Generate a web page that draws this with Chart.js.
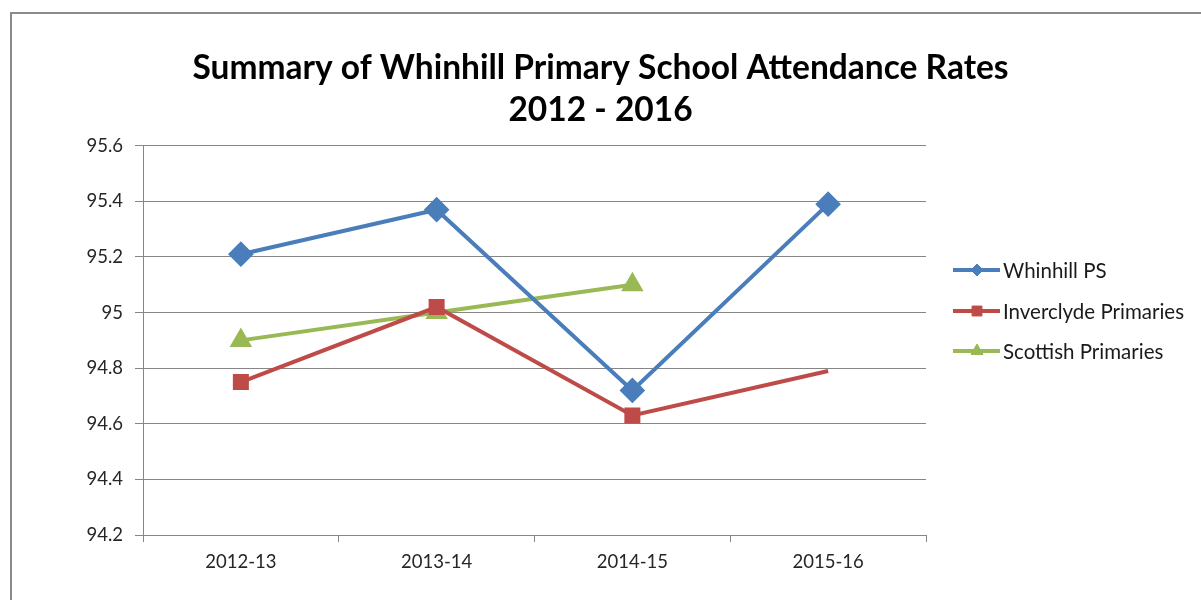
<!DOCTYPE html>
<html>
<head>
<meta charset="utf-8">
<script src="https://cdn.jsdelivr.net/npm/chart.js@4"></script>
<style>
  html, body { margin: 0; padding: 0; background: #fff; overflow: hidden; }
  #wrap { position: relative; width: 1201px; height: 600px; }
  #frame { position: absolute; left: 10px; top: 12px; width: 1400px; height: 800px; border: 2px solid #8a8a8a; box-sizing: border-box; }
  canvas { position: absolute; left: 0; top: 0; }
</style>
</head>
<body>
<div id="wrap">
  <div id="frame"></div>
  <canvas id="c" width="1201" height="600"></canvas>
</div>
<script>
const categories = ['2012-13', '2013-14', '2014-15', '2015-16'];
const whinhill = [95.21, 95.37, 94.72, 95.39];
const inverclyde = [94.75, 95.02, 94.63, 94.79];
const scottish = [94.90, 95.00, 95.10, null];
const yTickLabels = ['94.2', '94.4', '94.6', '94.8', '95', '95.2', '95.4', '95.6'];
const titleLines = ['Summary of Whinhill Primary School Attendance Rates', '2012 - 2016'];
const seriesNames = ['Whinhill PS', 'Inverclyde Primaries', 'Scottish Primaries'];

const FONT = 'Lato, "Open Sans", sans-serif';
const BLUE = '#4A7EBB', RED = '#BE4B48', GREEN = '#98B954';

const legendPlugin = {
  id: 'sideLegend',
  afterDraw(chart) {
    const ctx = chart.ctx;
    const x0 = chart.chartArea.right + 27;
    const ys = [270, 311, 351];
    chart.data.datasets.forEach((ds, i) => {
      const y = ys[i];
      ctx.save();
      ctx.strokeStyle = ds.borderColor;
      ctx.lineWidth = 4;
      ctx.beginPath();
      ctx.moveTo(x0, y);
      ctx.lineTo(x0 + 47, y);
      ctx.stroke();
      ctx.fillStyle = ds.borderColor;
      ctx.strokeStyle = ds.borderColor;
      ctx.lineWidth = 1;
      Chart.helpers.drawPoint(ctx, { pointStyle: ds.pointStyle, radius: ds.legendRadius, borderWidth: 1, rotation: 0 }, x0 + 24, y);
      ctx.fillStyle = '#1a1a1a';
      ctx.font = '20.5px ' + FONT;
      ctx.textBaseline = 'middle';
      ctx.textAlign = 'left';
      ctx.fillText(ds.label, x0 + 50, y + 1);
      ctx.restore();
    });
  }
};

new Chart(document.getElementById('c'), {
  type: 'line',
  data: {
    labels: categories,
    datasets: [
      { label: seriesNames[0], data: whinhill, borderColor: BLUE, backgroundColor: BLUE,
        borderWidth: 4, pointStyle: 'rectRot', pointRadius: 10, pointHoverRadius: 10, legendRadius: 6 },
      { label: seriesNames[1], data: inverclyde, borderColor: RED, backgroundColor: RED,
        borderWidth: 4, pointStyle: 'rect', pointRadius: [8.5, 8.5, 8.5, 0], pointHoverRadius: 8.5, legendRadius: 7 },
      { label: seriesNames[2], data: scottish, borderColor: GREEN, backgroundColor: GREEN,
        borderWidth: 4, pointStyle: 'triangle', pointRadius: 9, pointHoverRadius: 9, legendRadius: 7, spanGaps: false }
    ]
  },
  options: {
    responsive: false,
    animation: false,
    events: [],
    layout: { padding: 0 },
    plugins: {
      legend: { display: false },
      tooltip: { enabled: false },
      title: {
        display: true,
        text: titleLines,
        color: '#000',
        font: { family: FONT, size: 33.5, weight: 'bold', lineHeight: 1.25 },
        padding: { top: 47, bottom: 15 },
        align: 'center'
      }
    },
    scales: {
      x: {
        offset: true,
        grid: { offset: true, drawOnChartArea: false, drawTicks: true, tickLength: 7, color: '#868686' },
        border: { color: '#868686', width: 1 },
        ticks: { color: '#262626', font: { family: FONT, size: 18.5 }, padding: 9 },
        afterFit(s) { s.height = 65; }
      },
      y: {
        min: 94.2, max: 95.6,
        grid: { color: '#868686', tickLength: 8, lineWidth: 1 },
        border: { color: '#868686', width: 1 },
        ticks: {
          stepSize: 0.2, color: '#262626', font: { family: FONT, size: 18.5 }, padding: 12,
          callback: (v, i) => yTickLabels[i]
        },
        afterFit(s) { s.width = 143; }
      },
      legendSpace: {
        type: 'linear', position: 'right', display: true,
        grid: { drawOnChartArea: false, drawTicks: false },
        border: { display: false },
        ticks: { display: false },
        afterFit(s) { s.width = 275; }
      }
    }
  },
  plugins: [legendPlugin]
});
</script>
</body>
</html>
